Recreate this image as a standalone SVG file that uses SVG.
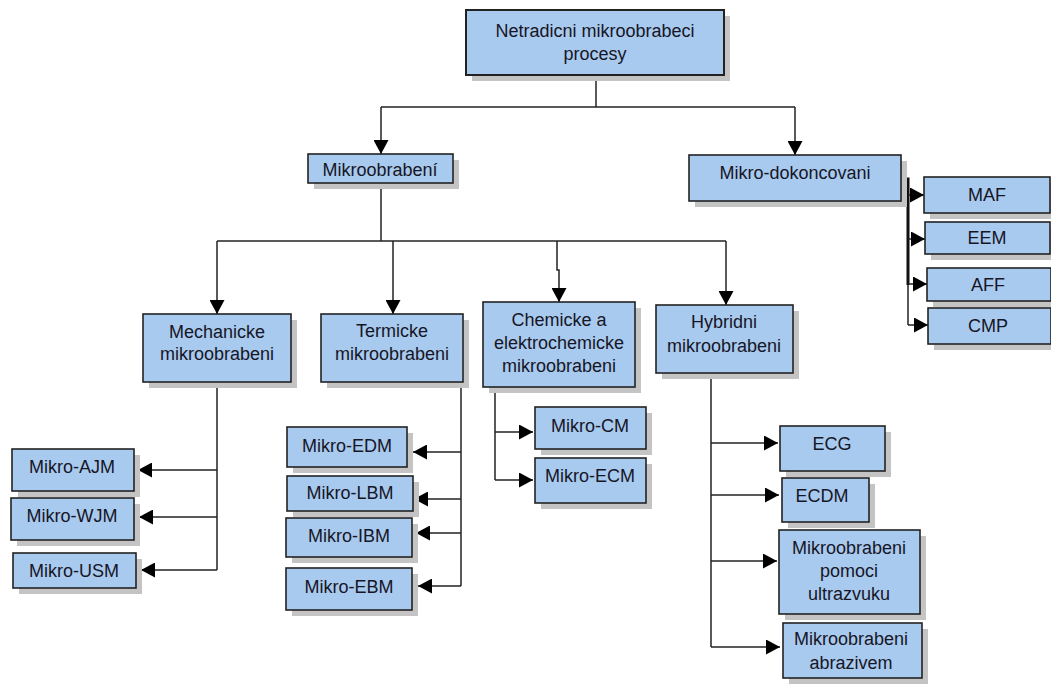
<svg xmlns="http://www.w3.org/2000/svg" width="1051" height="689" viewBox="0 0 1051 689">
<style>
.box{fill:#a9caef;stroke:#222;stroke-width:1.6}
.sh{fill:#c4c4c4}
.t{font-family:"Liberation Sans",Arial,sans-serif;font-size:18px;fill:#161626;text-anchor:middle}
.c{fill:none;stroke:#222;stroke-width:1.5}
</style>
<defs>
<marker id="ah" markerUnits="userSpaceOnUse" markerWidth="15" markerHeight="15" refX="14" refY="7.5" orient="auto" viewBox="0 0 15 15">
<path d="M0,0 L14,7.5 L0,15 z" fill="#000"/>
</marker>
</defs>
<rect width="1051" height="689" fill="#fff"/>

<g id="connectors">
<path class="c" d="M596,75 V107"/>
<path class="c" d="M381,107 H795"/>
<path class="c" d="M381,107 V154" marker-end="url(#ah)"/>
<path class="c" d="M795,107 V155" marker-end="url(#ah)"/>
<path class="c" d="M381,183 V241"/>
<path class="c" d="M217,241 H726"/>
<path class="c" d="M217,241 V314" marker-end="url(#ah)"/>
<path class="c" d="M393,241 V314" marker-end="url(#ah)"/>
<path class="c" d="M557,241 V270 H559 V302" marker-end="url(#ah)"/>
<path class="c" d="M726,241 V305" marker-end="url(#ah)"/>
<!-- Mikro-dokoncovani -->
<path d="M901,179 H908 V285" fill="none" stroke="#111" stroke-width="3"/>
<path class="c" d="M908,285 V325"/>
<path class="c" d="M908,195 H924" marker-end="url(#ah)"/>
<path class="c" d="M908,239 H925" marker-end="url(#ah)"/>
<path class="c" d="M908,284 H927" marker-end="url(#ah)"/>
<path class="c" d="M908,325 H928" marker-end="url(#ah)"/>
<!-- Mechanicke -->
<path class="c" d="M217,382 V570"/>
<path class="c" d="M217,470 H138" marker-end="url(#ah)"/>
<path class="c" d="M217,517 H139" marker-end="url(#ah)"/>
<path class="c" d="M217,570 H141" marker-end="url(#ah)"/>
<!-- Termicke -->
<path class="c" d="M461,382 V586"/>
<path class="c" d="M461,452 H413" marker-end="url(#ah)"/>
<path class="c" d="M461,499 H414" marker-end="url(#ah)"/>
<path class="c" d="M461,533 H416" marker-end="url(#ah)"/>
<path class="c" d="M461,586 H418" marker-end="url(#ah)"/>
<!-- Chemicke -->
<path class="c" d="M495,387 V480"/>
<path class="c" d="M495,432 H533" marker-end="url(#ah)"/>
<path class="c" d="M495,480 H533" marker-end="url(#ah)"/>
<!-- Hybridni -->
<path class="c" d="M711,373 V647"/>
<path class="c" d="M711,443 H778" marker-end="url(#ah)"/>
<path class="c" d="M711,495 H779" marker-end="url(#ah)"/>
<path class="c" d="M711,561 H777" marker-end="url(#ah)"/>
<path class="c" d="M711,647 H780" marker-end="url(#ah)"/>
</g>

<g id="n-root"><rect class="sh" x="472" y="16" width="258" height="65"/><rect class="box" x="466" y="10" width="258" height="65" style="stroke-width:2"/><text class="t" x="595" y="37">Netradicni mikroobrabeci</text><text class="t" x="595" y="60">procesy</text></g>
<g id="n-mikroobrabeni"><rect class="sh" x="314" y="160" width="145" height="29"/><rect class="box" x="308" y="154" width="145" height="29"/><text class="t" x="380" y="176">Mikroobrabení</text></g>
<g id="n-dokoncovani"><rect class="sh" x="695" y="161" width="212" height="46"/><rect class="box" x="689" y="155" width="212" height="46"/><text class="t" x="795" y="179">Mikro-dokoncovani</text></g>
<g id="n-maf"><rect class="sh" x="930" y="183" width="126" height="36"/><rect class="box" x="924" y="177" width="126" height="36"/><text class="t" x="987" y="201">MAF</text></g>
<g id="n-eem"><rect class="sh" x="931" y="228" width="125" height="32"/><rect class="box" x="925" y="222" width="125" height="32"/><text class="t" x="987" y="244">EEM</text></g>
<g id="n-aff"><rect class="sh" x="933" y="274" width="124" height="33"/><rect class="box" x="927" y="268" width="124" height="33"/><text class="t" x="988" y="291">AFF</text></g>
<g id="n-cmp"><rect class="sh" x="934" y="314" width="123" height="36"/><rect class="box" x="928" y="308" width="123" height="36"/><text class="t" x="988" y="332">CMP</text></g>

<g id="n-mech"><rect class="sh" x="149" y="320" width="148" height="68"/><rect class="box" x="143" y="314" width="148" height="68"/><text class="t" x="217" y="338">Mechanicke</text><text class="t" x="217" y="360">mikroobrabeni</text></g>
<g id="n-term"><rect class="sh" x="327" y="320" width="142" height="68"/><rect class="box" x="321" y="314" width="142" height="68"/><text class="t" x="392" y="337">Termicke</text><text class="t" x="392" y="360">mikroobrabeni</text></g>
<g id="n-chem"><rect class="sh" x="489" y="308" width="152" height="85"/><rect class="box" x="483" y="302" width="152" height="85"/><text class="t" x="559" y="326">Chemicke a</text><text class="t" x="559" y="349">elektrochemicke</text><text class="t" x="559" y="372">mikroobrabeni</text></g>
<g id="n-hyb"><rect class="sh" x="662" y="311" width="137" height="68"/><rect class="box" x="656" y="305" width="137" height="68"/><text class="t" x="724" y="328">Hybridni</text><text class="t" x="724" y="352">mikroobrabeni</text></g>

<g id="n-ajm"><rect class="sh" x="18" y="455" width="122" height="42"/><rect class="box" x="12" y="449" width="122" height="42"/><text class="t" x="72" y="473">Mikro-AJM</text></g>
<g id="n-wjm"><rect class="sh" x="17" y="504" width="123" height="42"/><rect class="box" x="11" y="498" width="123" height="42"/><text class="t" x="72" y="522">Mikro-WJM</text></g>
<g id="n-usm"><rect class="sh" x="19" y="559" width="123" height="35"/><rect class="box" x="13" y="553" width="123" height="35"/><text class="t" x="74" y="577">Mikro-USM</text></g>

<g id="n-edm"><rect class="sh" x="293" y="433" width="120" height="40"/><rect class="box" x="287" y="427" width="120" height="40"/><text class="t" x="347" y="452">Mikro-EDM</text></g>
<g id="n-lbm"><rect class="sh" x="293" y="482" width="126" height="35"/><rect class="box" x="287" y="476" width="126" height="35"/><text class="t" x="350" y="499">Mikro-LBM</text></g>
<g id="n-ibm"><rect class="sh" x="292" y="524" width="126" height="39"/><rect class="box" x="286" y="518" width="126" height="39"/><text class="t" x="349" y="542">Mikro-IBM</text></g>
<g id="n-ebm"><rect class="sh" x="292" y="574" width="126" height="42"/><rect class="box" x="286" y="568" width="126" height="42"/><text class="t" x="349" y="593">Mikro-EBM</text></g>

<g id="n-cm"><rect class="sh" x="541" y="413" width="111" height="42"/><rect class="box" x="535" y="407" width="111" height="42"/><text class="t" x="590" y="432">Mikro-CM</text></g>
<g id="n-ecm"><rect class="sh" x="541" y="464" width="111" height="45"/><rect class="box" x="535" y="458" width="111" height="45"/><text class="t" x="590" y="482">Mikro-ECM</text></g>

<g id="n-ecg"><rect class="sh" x="786" y="432" width="105" height="45"/><rect class="box" x="780" y="426" width="105" height="45"/><text class="t" x="832" y="450">ECG</text></g>
<g id="n-ecdm"><rect class="sh" x="788" y="484" width="87" height="44"/><rect class="box" x="782" y="478" width="87" height="44"/><text class="t" x="822" y="502">ECDM</text></g>
<g id="n-ultra"><rect class="sh" x="785" y="536" width="141" height="84"/><rect class="box" x="779" y="530" width="141" height="84"/><text class="t" x="849" y="554">Mikroobrabeni</text><text class="t" x="849" y="577">pomoci</text><text class="t" x="849" y="600">ultrazvuku</text></g>
<g id="n-abr"><rect class="sh" x="789" y="629" width="139" height="55"/><rect class="box" x="783" y="623" width="139" height="55"/><text class="t" x="851" y="645">Mikroobrabeni</text><text class="t" x="851" y="669">abrazivem</text></g>
</svg>
